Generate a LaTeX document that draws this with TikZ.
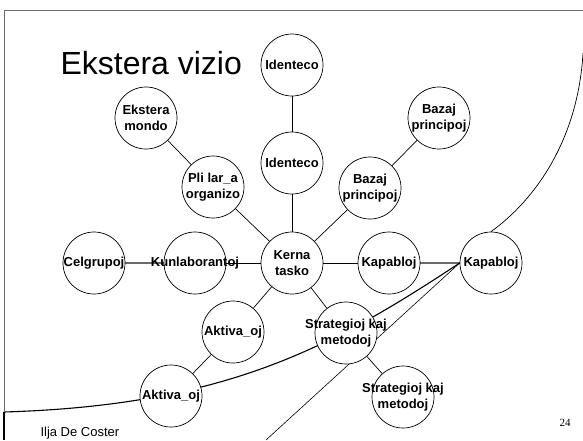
\documentclass[tikz,border=0pt]{standalone}
\usepackage{fontspec}
\setmainfont{Liberation Sans}
\newfontfamily\numfont{Liberation Serif}
\usepackage{tikz}
\usetikzlibrary{positioning, backgrounds}
\definecolor{ramo}{gray}{0.42}

\tikzset{
    bubble/.style={circle, draw, fill=white, line width=0.7pt, minimum size=62pt,
        inner sep=0pt, label={[align=center, inner sep=0pt,
        font=\bfseries\fontsize{13}{15.5}\selectfont]center:#1}},
    spoke/.style={line width=0.7pt},
    greyspoke/.style={line width=1.4pt, ramo},
}

\begin{document}
\begin{tikzpicture}[x=1pt, y=-1pt, on grid]
    \useasboundingbox (0,0) rectangle (583,440);
    \draw[ramo, line width=0.9pt] (4,412) -- (4,10.7) -- (583,10.7);
    \draw[line width=1.3pt] (4,412) -- (4,440);

    \node[font=\fontsize{32}{36}\selectfont, anchor=base west] (titolo) at (57,74) {Ekstera vizio};

    \node[bubble={Kerna\\tasko}] (kerna) at (292,263) {};
    \node[bubble={Identeco}, above=100pt of kerna] (identeco) {};
    \node[bubble={Identeco}, above=98pt of identeco] (identeco2) {};
    \node[bubble={Pli lar\_a\\organizo}, above left=76pt and 79pt of kerna] (plilarga) {};
    \node[bubble={Ekstera\\mondo}, above left=69pt and 67pt of plilarga] (mondo) {};
    \node[bubble={Bazaj\\principoj}, above right=75pt and 78pt of kerna] (principoj) {};
    \node[bubble={Bazaj\\principoj}, above right=70pt and 69pt of principoj] (principoj2) {};
    \node[bubble={Kunlaborantoj}, left=97pt of kerna] (kunlab) {};
    \node[bubble={Celgrupoj}, left=101pt of kunlab] (celgrupoj) {};
    \node[bubble={Kapabloj}, right=97pt of kerna] (kapabloj) {};
    \node[bubble={Kapabloj}, right=102pt of kapabloj] (kapabloj2) {};
    \node[bubble={Aktiva\_oj}, below left=69pt and 59pt of kerna] (aktivajoj) {};
    \node[bubble={Strategioj kaj\\metodoj}, below right=70pt and 54pt of kerna] (strategioj) {};
    \node[bubble={Aktiva\_oj}, below left=64pt and 62pt of aktivajoj] (aktivajoj2) {};
    \node[bubble={Strategioj kaj\\metodoj}, below right=64pt and 57pt of strategioj] (strategioj2) {};

    \coordinate (randoA) at (4,412);
    \coordinate (randoB) at (266,440);
    \coordinate (randoC) at (583,53);

    \begin{scope}[on background layer]
        \draw[spoke] (kerna) -- (identeco);
        \draw[spoke] (identeco) -- (identeco2);
        \draw[spoke] (kerna) -- (plilarga);
        \draw[spoke] (plilarga) -- (mondo);
        \draw[spoke] (kerna) -- (principoj);
        \draw[spoke] (principoj) -- (principoj2);
        \draw[spoke] (kerna) -- (kunlab);
        \draw[greyspoke] (kunlab) -- (celgrupoj);
        \draw[spoke] (kerna) -- (kapabloj);
        \draw[greyspoke] (kapabloj) -- (kapabloj2);
        \draw[spoke] (kerna) -- (aktivajoj);
        \draw[spoke] (aktivajoj) -- (aktivajoj2);
        \draw[spoke] (kerna) -- (strategioj);
        \draw[spoke] (strategioj) -- (strategioj2);

        \draw[line width=1.1pt] (randoA) .. controls (224,405.4) and (330,348.8) .. (kapabloj2.west);
        \draw[line width=0.6pt] (kapabloj2.west) -- (randoB);
        \draw[line width=0.7pt] (randoC) .. controls (578,140) and (535,200) .. (kapabloj2.north);
    \end{scope}

    \node[font=\fontsize{13}{15}\selectfont, anchor=base west] (autoro) at (37,436) {Ilja De Coster};
    \node[font=\numfont\fontsize{11}{13}\selectfont, anchor=base] (pagxo) at (565,426) {24};
\end{tikzpicture}
\end{document}
